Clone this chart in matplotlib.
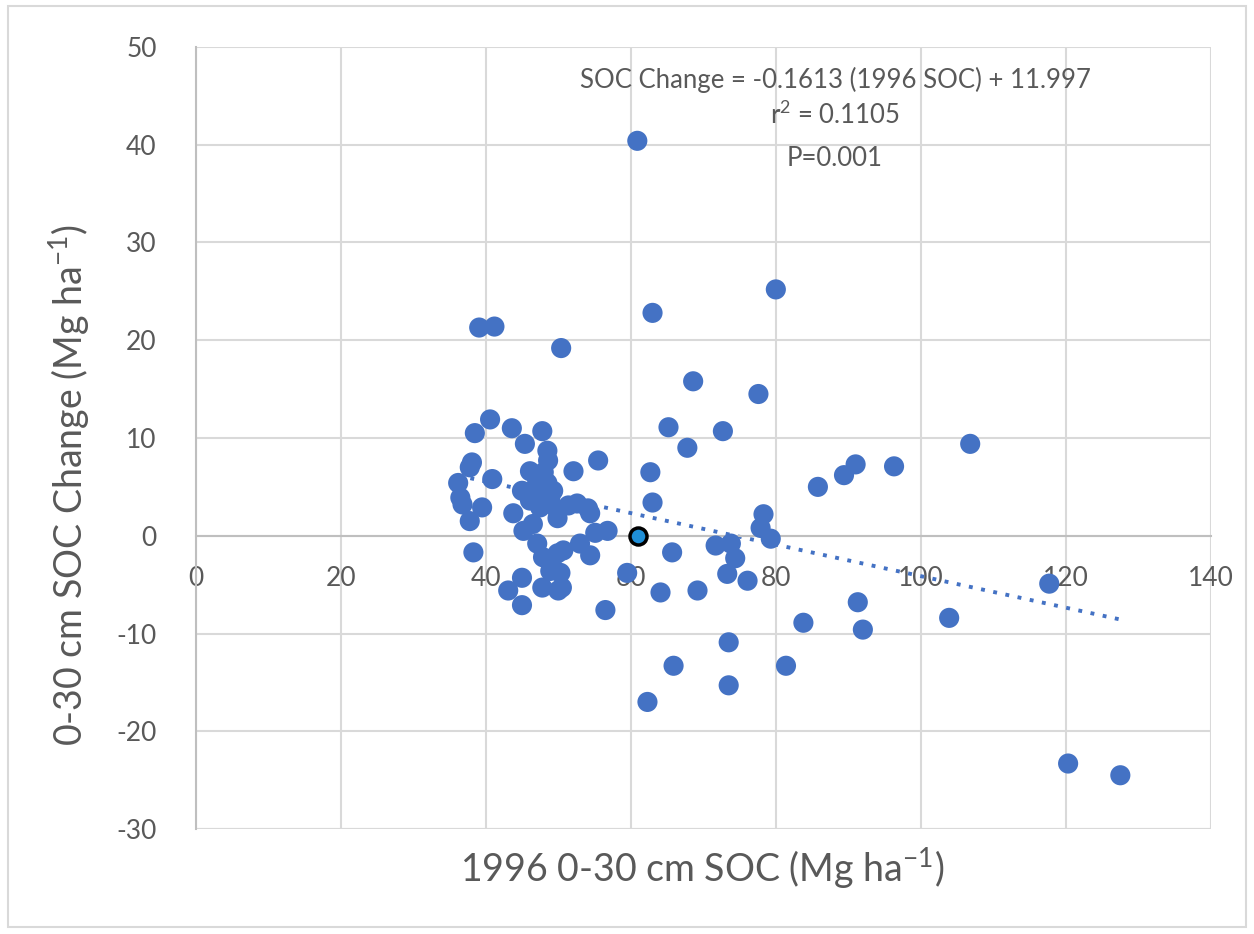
import matplotlib
matplotlib.use("Agg")
import matplotlib.pyplot as plt
from matplotlib.patches import Rectangle
import numpy as np

plt.rcParams['font.family'] = ['Lato', 'DejaVu Sans']
plt.rcParams['axes.unicode_minus'] = False
plt.rcParams['mathtext.default'] = 'regular'

# 1996 SOC (x) and SOC change (y)
soc_1996 = [60.9, 39.1, 41.2, 50.4, 63.0, 80.0, 68.6, 77.6, 72.7, 65.2,
            67.8, 106.8, 96.3, 91.0, 89.4, 85.8, 62.7, 63.0, 78.3, 77.9,
            79.3, 71.7, 73.8, 74.4, 73.3, 76.1, 65.7, 59.5, 64.1, 69.2,
            56.5, 83.8, 73.5, 65.9, 81.4, 73.5, 62.3, 117.7, 91.3, 92.0,
            103.9, 120.3, 127.5, 40.6, 38.5, 43.6, 47.8, 45.4, 48.5, 48.6,
            38.1, 37.8, 46.1, 40.9, 36.2, 47.1, 48.5, 45.0, 47.5, 48.9,
            36.5, 49.3, 46.1, 39.5, 43.8, 36.8, 47.5, 49.9, 37.8, 45.2,
            47.1, 38.3, 47.9, 49.9, 48.9, 50.3, 45.0, 47.8, 50.0, 43.1,
            45.0, 48.9, 49.9, 55.5, 52.1, 51.4, 52.6, 54.1, 54.4, 55.1,
            56.8, 53.0, 54.4, 50.7, 49.3, 50.5, 46.5, 48.0, 46.8]
soc_change = [40.4, 21.3, 21.4, 19.2, 22.8, 25.2, 15.8, 14.5, 10.7, 11.1,
              9.0, 9.4, 7.1, 7.3, 6.2, 5.0, 6.5, 3.4, 2.2, 0.8,
              -0.3, -1.0, -0.8, -2.3, -3.9, -4.6, -1.7, -3.8, -5.8, -5.6,
              -7.6, -8.9, -10.9, -13.3, -13.3, -15.3, -17.0, -4.9, -6.8, -9.6,
              -8.4, -23.3, -24.5, 11.9, 10.5, 11.0, 10.7, 9.4, 8.7, 7.7,
              7.5, 7.0, 6.6, 5.8, 5.4, 5.6, 5.4, 4.6, 4.3, 3.9,
              3.9, 4.6, 3.6, 2.9, 2.3, 3.2, 2.9, 2.6, 1.5, 0.5,
              -0.8, -1.7, -2.2, -1.8, -3.6, -3.8, -4.3, -5.3, -5.6, -5.6,
              -7.1, 3.3, 1.8, 7.7, 6.6, 3.1, 3.3, 2.8, 2.3, 0.3,
              0.5, -0.8, -2.0, -1.5, -3.3, -5.3, 1.2, 6.5, 4.8]

# highlighted site
mean_x = [61.0]
mean_y = [0.0]

slope = -0.1613
intercept = 11.997

x_ticks = [0, 20, 40, 60, 80, 100, 120, 140]
y_ticks = [-30, -20, -10, 0, 10, 20, 30, 40, 50]

blue = '#4472C4'
grid_c = '#d9d9d9'
text_c = '#595959'

fig = plt.figure(figsize=(12.54, 9.34), dpi=100)
fig.patches.append(Rectangle((0.006, 0.008), 0.988, 0.986, transform=fig.transFigure,
                             fill=False, edgecolor=grid_c, linewidth=1.5))
ax = fig.add_axes([0.156, 0.1124, 0.8097, 0.8373])

ax.set_xlim(0, 140)
ax.set_ylim(-30, 50)
ax.set_xticks(x_ticks)
ax.set_yticks(y_ticks)
ax.grid(True, color=grid_c, linewidth=1.5, zorder=0)
ax.set_axisbelow(True)

for s in ['top', 'right']:
    ax.spines[s].set_visible(False)
ax.spines['left'].set_color('#bfbfbf')
ax.spines['left'].set_linewidth(1.5)
ax.spines['bottom'].set_position(('data', 0))
ax.spines['bottom'].set_color('#bfbfbf')
ax.spines['bottom'].set_linewidth(1.5)
# bottom border line at -30
ax.axhline(-30, color=grid_c, linewidth=1.5, zorder=0)

ax.tick_params(axis='both', length=0, labelsize=19, colors=text_c)
ax.tick_params(axis='x', pad=22)
ax.tick_params(axis='y', pad=28)

ax.scatter(soc_1996, soc_change, s=210, color=blue, edgecolors='none', zorder=3)
ax.scatter(mean_x, mean_y, s=150, color='#1f8fd8', edgecolors='black',
           linewidths=2.5, zorder=4)

xs = np.array([min(soc_1996), max(soc_1996)])
ax.plot(xs, slope * xs + intercept, linestyle=(0, (1, 2.2)), color=blue,
        linewidth=2.8, zorder=2)

eq_lines = [('SOC Change = -0.1613 (1996 SOC) + 11.997', 80),
            ('r$^2$ = 0.1105', 115),
            ('P=0.001', 158)]
for txt, py in eq_lines:
    ax.annotate(txt, xy=(835, 934 - py), xycoords='figure pixels',
                ha='center', va='center', fontsize=18.5, color=text_c)

fig.text(0.56, 1 - 868 / 934, '1996 0-30 cm SOC (Mg ha$^{-1}$)', ha='center',
         va='center', fontsize=27, color=text_c)
fig.text(0.055, 1 - 485 / 934, '0-30 cm SOC Change (Mg ha$^{-1}$)', ha='center',
         va='center', rotation=90, fontsize=27, color=text_c)

fig.savefig('out.png', dpi=100)
